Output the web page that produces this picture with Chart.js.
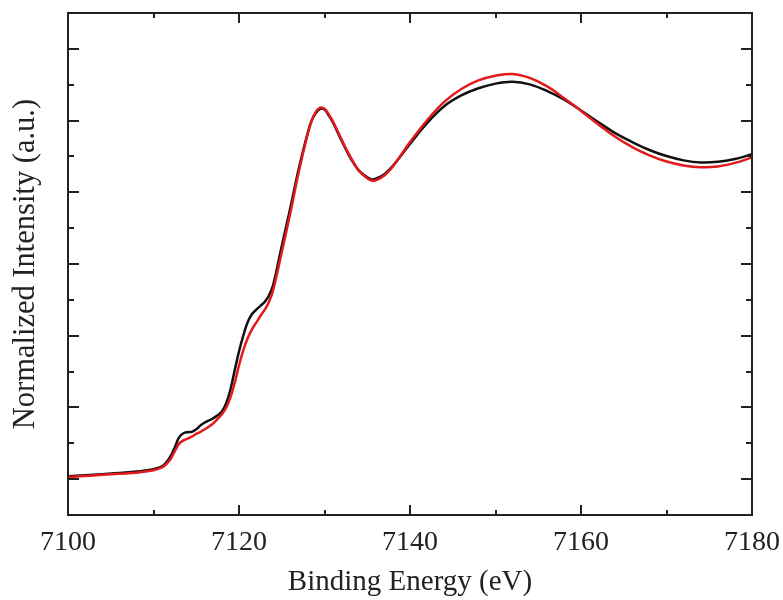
<!DOCTYPE html>
<html>
<head>
<meta charset="utf-8">
<script src="https://cdn.jsdelivr.net/npm/chart.js@4.4.1/dist/chart.umd.min.js"></script>
<style>
  html, body { margin: 0; padding: 0; background: #ffffff; }
  #wrap { width: 783px; height: 600px; }
</style>
</head>
<body>
<div id="wrap"><canvas id="c" width="783" height="600"></canvas></div>
<script>
// Binding energy (eV)
const energy = [7100, 7102, 7104, 7106, 7108, 7109, 7110, 7111, 7111.5, 7112, 7112.5, 7113, 7113.5, 7114, 7114.5, 7115, 7115.5, 7116, 7116.5, 7117, 7117.5, 7118, 7118.5, 7119, 7119.5, 7120, 7120.5, 7121, 7121.5, 7122, 7122.5, 7123, 7123.5, 7124, 7125, 7126, 7127, 7128, 7128.5, 7129, 7129.5, 7130, 7130.5, 7131, 7132, 7133, 7134, 7135, 7135.5, 7136, 7137, 7138, 7140, 7142, 7144, 7146, 7148, 7150, 7152, 7154, 7156, 7158, 7160, 7162, 7164, 7166, 7168, 7170, 7172, 7174, 7176, 7178, 7180];

// Normalized intensity, black curve
const blackSeries = [0.008, 0.011, 0.014, 0.017, 0.021, 0.024, 0.028, 0.036, 0.047, 0.064, 0.089, 0.117, 0.128, 0.131, 0.132, 0.139, 0.150, 0.158, 0.164, 0.170, 0.178, 0.189, 0.212, 0.250, 0.304, 0.356, 0.400, 0.437, 0.460, 0.472, 0.483, 0.494, 0.512, 0.542, 0.650, 0.756, 0.867, 0.962, 1.000, 1.022, 1.033, 1.031, 1.014, 0.994, 0.944, 0.897, 0.861, 0.842, 0.836, 0.838, 0.850, 0.874, 0.935, 0.993, 1.040, 1.070, 1.090, 1.103, 1.108, 1.101, 1.083, 1.059, 1.028, 0.996, 0.965, 0.940, 0.918, 0.901, 0.889, 0.883, 0.885, 0.893, 0.906];

// Normalized intensity, red curve
const redSeries = [0.006, 0.009, 0.012, 0.015, 0.018, 0.021, 0.025, 0.033, 0.042, 0.056, 0.078, 0.099, 0.108, 0.113, 0.119, 0.126, 0.132, 0.139, 0.147, 0.156, 0.168, 0.181, 0.199, 0.228, 0.269, 0.317, 0.359, 0.392, 0.417, 0.436, 0.455, 0.472, 0.494, 0.528, 0.633, 0.742, 0.858, 0.959, 1.000, 1.025, 1.036, 1.033, 1.017, 0.997, 0.947, 0.900, 0.861, 0.839, 0.833, 0.833, 0.847, 0.872, 0.940, 1.001, 1.052, 1.088, 1.112, 1.125, 1.130, 1.119, 1.096, 1.063, 1.027, 0.990, 0.955, 0.926, 0.903, 0.886, 0.875, 0.870, 0.872, 0.882, 0.897];

const xMin = 7100, xMax = 7180, xMajorStep = 20, xMinorStep = 10;
const yMin = -0.1, yMax = 1.3, yStep = 0.1;
const xTitle = 'Binding Energy (eV)';
const yTitle = 'Normalized Intensity (a.u.)';

const toPts = (xs, ys) => xs.map((x, i) => ({ x: x, y: ys[i] }));

const frameTicks = {
  id: 'frameTicks',
  afterDatasetsDraw(chart) {
    const ctx = chart.ctx;
    const a = chart.chartArea;
    const xs = chart.scales.x, ys = chart.scales.y;
    ctx.save();
    ctx.strokeStyle = '#222';
    ctx.lineWidth = 2;
    ctx.lineCap = 'butt';
    for (let v = xs.min; v <= xs.max + 1e-9; v += xMinorStep) {
      const px = Math.round(xs.getPixelForValue(v));
      const r = (v - xs.min) / xMajorStep;
      const major = Math.abs(r - Math.round(r)) < 1e-6;
      const len = major ? 10 : 5;
      ctx.beginPath();
      ctx.moveTo(px, a.bottom); ctx.lineTo(px, a.bottom - len);
      ctx.moveTo(px, a.top); ctx.lineTo(px, a.top + len);
      ctx.stroke();
    }
    ys.ticks.forEach(t => {
      const v = t.value;
      if (v <= ys.min + 1e-9 || v >= ys.max - 1e-9) return;
      const py = Math.round(ys.getPixelForValue(v));
      const major = Math.round(v * 10) % 2 === 0;
      const len = major ? 11 : 6;
      ctx.beginPath();
      ctx.moveTo(a.left, py); ctx.lineTo(a.left + len, py);
      ctx.moveTo(a.right, py); ctx.lineTo(a.right - len, py);
      ctx.stroke();
    });
    ctx.strokeRect(a.left, a.top, a.right - a.left, a.bottom - a.top);
    ctx.restore();
  }
};

new Chart(document.getElementById('c'), {
  type: 'line',
  data: {
    datasets: [
      { label: 'red', data: toPts(energy, redSeries), borderColor: '#e3191c', borderWidth: 2.5, pointRadius: 0, tension: 0.4, fill: false },
      { label: 'black', data: toPts(energy, blackSeries), borderColor: '#111111', borderWidth: 2.5, pointRadius: 0, tension: 0.4, fill: false }
    ]
  },
  options: {
    responsive: false,
    animation: false,
    events: [],
    layout: { padding: { left: 0, top: 13, right: 31, bottom: 0 } },
    plugins: { legend: { display: false }, tooltip: { enabled: false } },
    scales: {
      x: {
        type: 'linear', min: xMin, max: xMax,
        grid: { display: false, drawTicks: false, tickLength: 0 },
        border: { display: false },
        ticks: { stepSize: xMajorStep, padding: 11, color: '#222', font: { family: 'Liberation Serif', size: 28 }, maxRotation: 0, callback: v => String(v) },
        title: { display: true, text: xTitle, color: '#222', font: { family: 'Liberation Serif', size: 29 }, padding: { top: 0, bottom: 0 } },
        afterFit(s) { s.height = 85; s.paddingLeft = 0; s.paddingRight = 0; }
      },
      y: {
        type: 'linear', min: yMin, max: yMax,
        grid: { display: false, drawTicks: false, tickLength: 0 },
        border: { display: false },
        ticks: { stepSize: yStep, display: false },
        title: { display: true, text: yTitle, color: '#222', font: { family: 'Liberation Serif', size: 30.5 }, padding: { top: 8, bottom: 0 } },
        afterFit(s) { s.width = 68; s.paddingTop = 0; s.paddingBottom = 0; }
      }
    }
  },
  plugins: [frameTicks]
});
</script>
</body>
</html>
